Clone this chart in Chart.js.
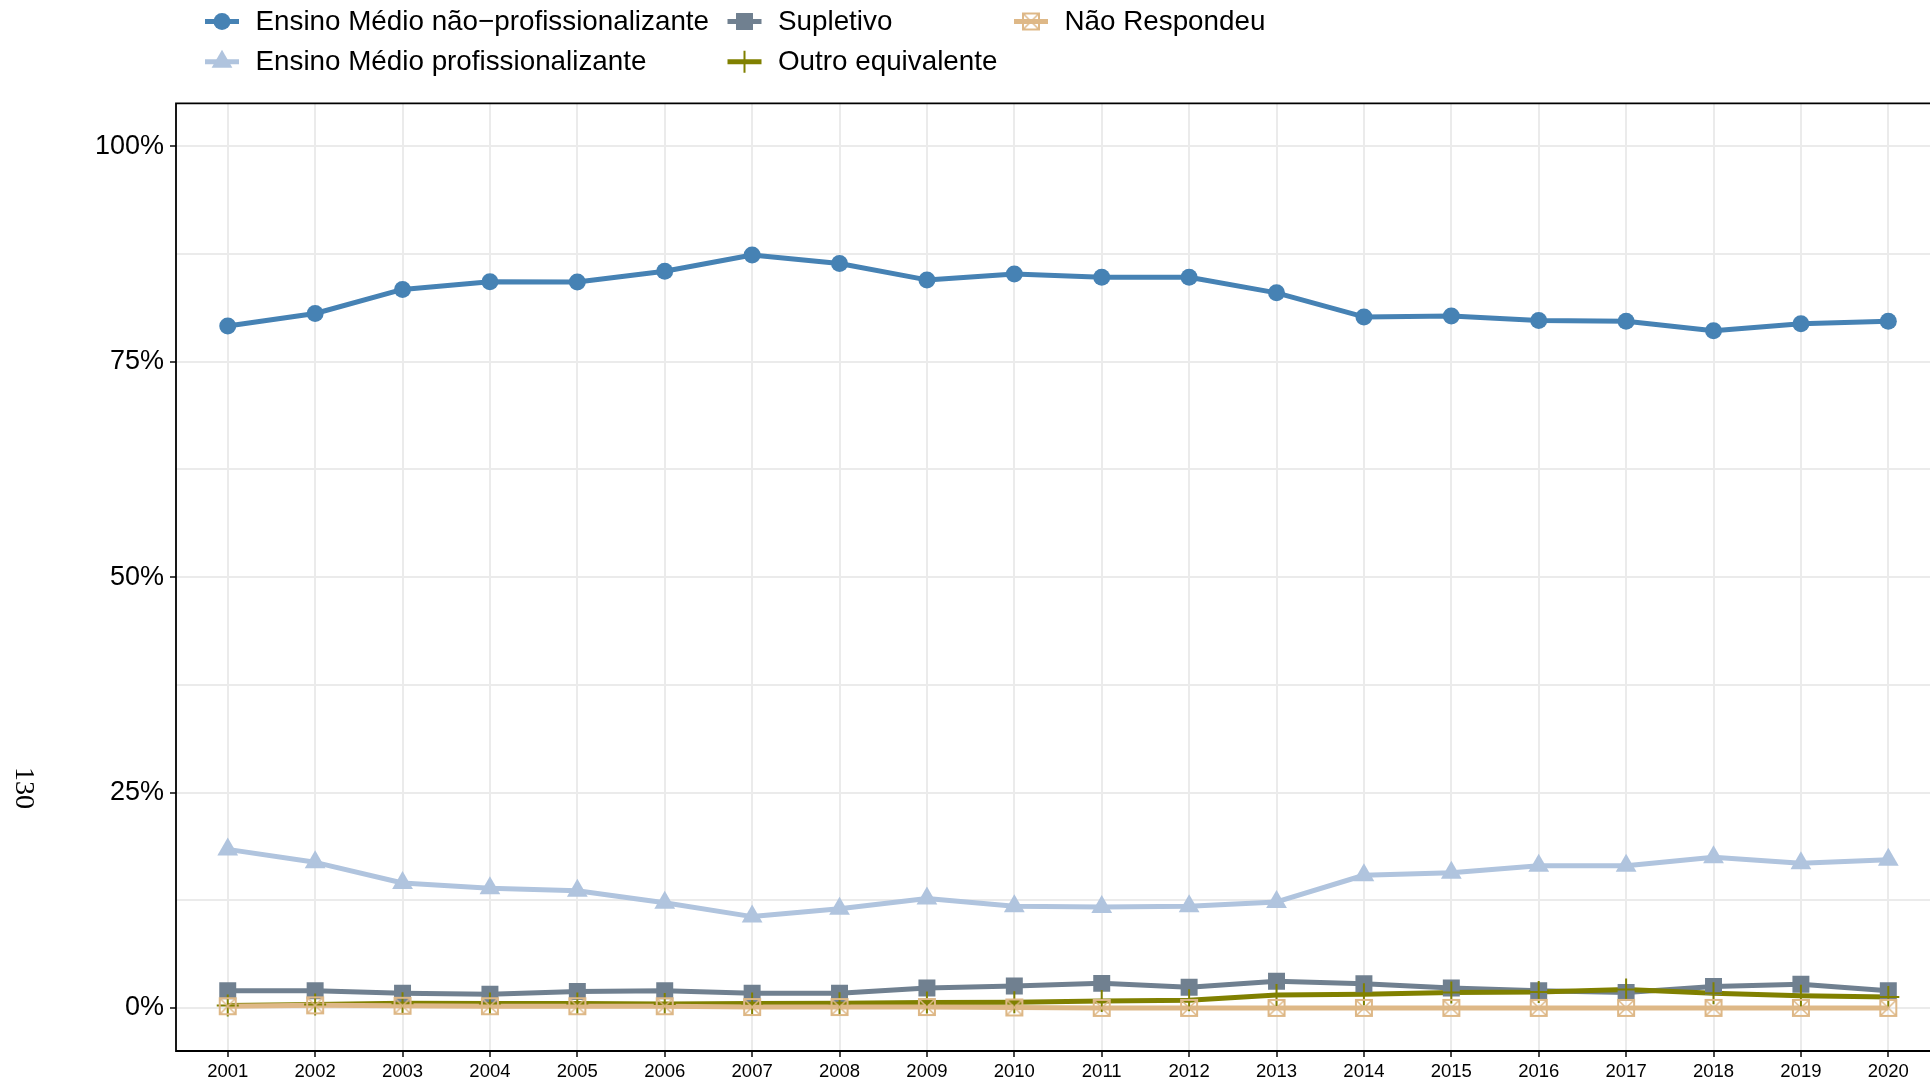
<!DOCTYPE html>
<html><head><meta charset="utf-8">
<script src="https://cdn.jsdelivr.net/npm/chart.js@4.4.0/dist/chart.umd.min.js"></script>
<style>html,body{margin:0;padding:0;background:#fff;overflow:hidden}canvas{display:block}</style>
</head><body>
<canvas id="c" width="1930" height="1081"></canvas>
<script>
// ---- data ----
const years = [2001,2002,2003,2004,2005,2006,2007,2008,2009,2010,2011,2012,2013,2014,2015,2016,2017,2018,2019,2020];
const naoProfissionalizante = [79.15,80.6,83.4,84.3,84.25,85.5,87.4,86.4,84.5,85.2,84.8,84.8,83.0,80.2,80.3,79.8,79.7,78.6,79.4,79.7];
const profissionalizante = [18.4,16.9,14.5,13.9,13.6,12.2,10.6,11.5,12.7,11.8,11.7,11.8,12.3,15.4,15.7,16.5,16.5,17.5,16.8,17.2];
const supletivo = [2.0,2.0,1.7,1.6,1.9,2.0,1.7,1.7,2.3,2.55,2.85,2.4,3.1,2.8,2.3,2.0,1.8,2.5,2.75,2.0];
const outroEquivalente = [0.27,0.4,0.55,0.5,0.5,0.46,0.5,0.55,0.62,0.66,0.8,0.9,1.5,1.6,1.78,1.85,2.15,1.7,1.4,1.28];
const naoRespondeu = [0.2,0.3,0.25,0.2,0.2,0.2,0.1,0.1,0.1,0.05,0,0,0,0,0,0,0,0,0,0];
const seriesNames = ['Ensino Médio não−profissionalizante','Ensino Médio profissionalizante','Supletivo','Outro equivalente','Não Respondeu'];
const yTickValues = [0,12.5,25,37.5,50,62.5,75,87.5,100];
const yMajorLabels = {0:'0%',25:'25%',50:'50%',75:'75%',100:'100%'};
const yAxisTitle = '130';

// ---- styles ----
const colors = ['#4682B4','#B0C4DE','#708090','#808000','#DEB887'];
function boxedX(color){
  const c = document.createElement('canvas'); c.width = 20; c.height = 20;
  const g = c.getContext('2d');
  g.strokeStyle = color; g.lineWidth = 2;
  g.strokeRect(2,2,16,16);
  g.lineWidth = 1.5;
  g.beginPath(); g.moveTo(2,2); g.lineTo(18,18); g.moveTo(18,2); g.lineTo(2,18); g.stroke();
  return c;
}
const markers = [
  {style:'circle', radius:8.5, bw:0},
  {style:'triangle', radius:12, bw:0},
  {style:'rect', radius:12, bw:0},
  {style:'cross', radius:11, bw:2},
  {style:boxedX(colors[4]), radius:8, bw:0}
];
const allSeries = [naoProfissionalizante, profissionalizante, supletivo, outroEquivalente, naoRespondeu];
const lineW = 5;

const datasets = [];
allSeries.forEach((vals, i) => {
  const pts = years.map((y, k) => ({x: y, y: vals[k]}));
  datasets.push({label: seriesNames[i], data: pts, borderColor: colors[i], borderWidth: lineW,
    pointRadius: 0, tension: 0, borderJoinStyle: 'round', borderCapStyle: 'butt', order: 200 - i, fill: false});
  datasets.push({label: seriesNames[i] + ' pts', data: pts, showLine: false,
    pointStyle: markers[i].style, pointRadius: markers[i].radius, pointBorderWidth: markers[i].bw,
    pointBackgroundColor: colors[i], pointBorderColor: colors[i], order: 100 - i});
});

const borderPlugin = {
  id: 'panelBorder',
  afterDatasetsDraw(chart) {
    const {ctx, chartArea: a} = chart;
    ctx.save();
    ctx.strokeStyle = '#000'; ctx.lineWidth = 1.8;
    ctx.beginPath();
    ctx.moveTo(chart.width + 5, a.top); ctx.lineTo(a.left, a.top); ctx.lineTo(a.left, a.bottom); ctx.lineTo(chart.width + 5, a.bottom);
    ctx.stroke();
    ctx.restore();
  }
};

const legendLayout = [
  {s:0, x:255.5, y:21.5}, {s:1, x:255.5, y:61.7},
  {s:2, x:778, y:21.5}, {s:3, x:778, y:61.7},
  {s:4, x:1064.5, y:21.5}
];
const legendPlugin = {
  id: 'customLegend',
  afterDraw(chart) {
    const ctx = chart.ctx;
    ctx.save();
    legendLayout.forEach(e => {
      const i = e.s, cx = e.x - 33.5, cy = e.y;
      ctx.strokeStyle = colors[i]; ctx.lineWidth = lineW; ctx.lineCap = 'butt';
      ctx.beginPath(); ctx.moveTo(cx - 17, cy); ctx.lineTo(cx + 17, cy); ctx.stroke();
      ctx.fillStyle = colors[i]; ctx.strokeStyle = colors[i]; ctx.lineWidth = markers[i].bw || 1;
      Chart.helpers.drawPoint(ctx, {pointStyle: markers[i].style, radius: markers[i].radius, rotation: 0, borderWidth: markers[i].bw}, cx, cy);
      ctx.fillStyle = '#000';
      ctx.font = '27.8px "Liberation Sans", Arial, sans-serif';
      ctx.textBaseline = 'middle'; ctx.textAlign = 'left';
      ctx.fillText(seriesNames[i], e.x, cy + 1);
    });
    // y axis title
    ctx.translate(23, 788);
    ctx.rotate(Math.PI / 2);
    ctx.font = '28px "Liberation Serif", "Times New Roman", serif';
    ctx.textAlign = 'center'; ctx.textBaseline = 'middle';
    ctx.fillStyle = '#000';
    ctx.fillText(yAxisTitle, 0, 0);
    ctx.restore();
  }
};

new Chart(document.getElementById('c'), {
  type: 'line',
  data: {datasets},
  plugins: [borderPlugin, legendPlugin],
  options: {
    responsive: false, animation: false, devicePixelRatio: 1, events: [],
    layout: {autoPadding: false, padding: {top: 103.3, left: 0, right: 0, bottom: 0}},
    plugins: {legend: {display: false}, tooltip: {enabled: false}},
    scales: {
      x: {
        type: 'linear', min: 2000.408, max: 2020.477,
        afterBuildTicks: s => { s.ticks = years.map(v => ({value: v})); },
        afterFit: s => { s.height = 30; s.paddingLeft = 0; s.paddingRight = 0; },
        grid: {color: '#EBEBEB', lineWidth: 2, drawTicks: true, tickLength: 6, tickColor: '#333333', tickWidth: 1.8},
        border: {display: false},
        ticks: {font: {family: '"Liberation Sans", Arial, sans-serif', size: 18.5}, color: '#000', padding: 4,
          maxRotation: 0, autoSkip: false, callback: v => String(v)}
      },
      y: {
        type: 'linear', min: -5, max: 105,
        afterBuildTicks: s => { s.ticks = yTickValues.map(v => ({value: v})); },
        afterFit: s => { s.width = 176; s.paddingTop = 0; s.paddingBottom = 0; },
        grid: {color: '#EBEBEB', lineWidth: 2, drawTicks: true, tickLength: 6, tickWidth: 1.8,
          tickColor: c => (c.tick && yMajorLabels[c.tick.value] !== undefined) ? '#333333' : 'rgba(0,0,0,0)'},
        border: {display: false},
        ticks: {font: {family: '"Liberation Sans", Arial, sans-serif', size: 27}, color: '#000', padding: 6,
          autoSkip: false, callback: v => (yMajorLabels[v] !== undefined ? yMajorLabels[v] : '')}
      }
    }
  }
});
</script>
</body></html>
